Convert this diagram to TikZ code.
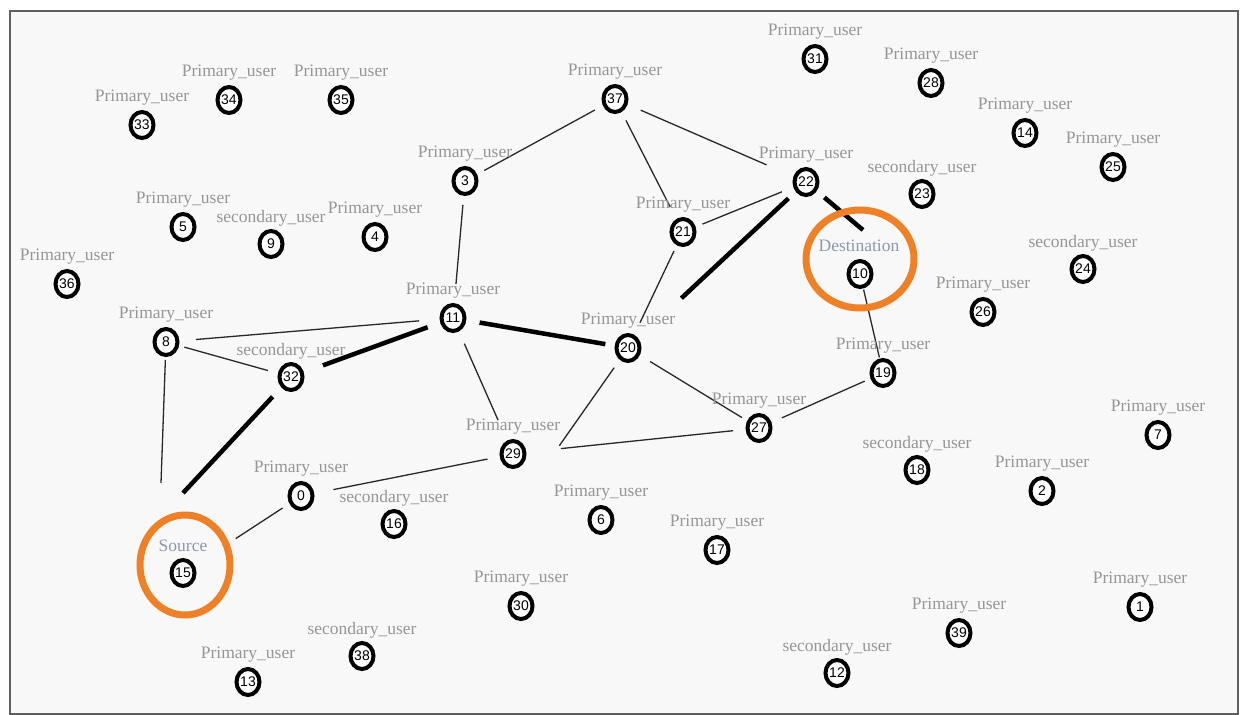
\documentclass[tikz,border=0pt]{standalone}
\usepackage{fontspec}
\setmainfont{Liberation Serif}
\newfontfamily\numfont{Liberation Sans}
\usetikzlibrary{shapes.geometric}
\definecolor{labgray}{RGB}{150,150,150}
\definecolor{srcblue}{RGB}{140,152,175}
\definecolor{ringc}{RGB}{238,128,40}
\definecolor{bgpanel}{RGB}{248,248,248}
\definecolor{framec}{RGB}{95,95,95}
\definecolor{edgec}{RGB}{40,40,40}
\pgfdeclarelayer{framelayer}
\pgfdeclarelayer{edgelayer}
\pgfsetlayers{framelayer,edgelayer,main}
\begin{document}
\begin{tikzpicture}[x=1pt,y=-1pt,
 usernode/.style={ellipse, draw=black, line width=4pt, fill=white, minimum width=23pt, minimum height=26pt, inner sep=0pt, font=\numfont\fontsize{14}{14}\selectfont},
 userlab/.style={text=labgray, font=\fontsize{17.5}{19}\selectfont, inner sep=0pt},
 endlab/.style={text=srcblue, font=\fontsize{17.5}{19}\selectfont, inner sep=0pt},
 thinedge/.style={draw=edgec, line width=1.3pt},
 thickedge/.style={draw=black, line width=4.5pt},
 ringstyle/.style={ellipse, draw=ringc, line width=7pt, inner sep=0pt}
]
\useasboundingbox (0,0) rectangle (1240,715);
\begin{pgfonlayer}{framelayer}
\fill[white] (0,0) rectangle (1240,715);
\draw[framec, line width=1.5pt, fill=bgpanel] (10,11) rectangle (1238,714);
\end{pgfonlayer}

% rings around source and destination
\node[ringstyle, minimum width=90pt, minimum height=100pt] (srcring) at (185,565) {};
\node[ringstyle, minimum width=108pt, minimum height=98pt] (dstring) at (860,259) {};

% primary users
\foreach \n/\x/\y in {33/142/125, 34/229/100, 35/341/100, 5/183/227, 4/375/237, 36/67/284, 37/615/99, 3/465/181, 22/806/182, 21/683/232, 11/453/318, 31/815/59, 28/931/83, 14/1025/133, 25/1113/167, 26/983/312, 8/166/342, 0/301/496, 13/248/682, 20/628/348, 29/513/454, 27/759/428, 6/601/520, 17/717/550, 30/521/606, 19/883/373, 7/1158/435, 2/1042/491, 1/1140/607, 39/959/633}{
  \node[usernode] (n\n) at (\x,\y) {\n};
  \node[userlab] (l\n) at (\x,\y-27) {Primary\_user};
}
% secondary users
\foreach \n/\x/\y in {9/271/244, 23/922/194, 24/1083/269, 32/291/377, 16/394/524, 38/362/656, 18/917/470, 12/837/673}{
  \node[usernode] (n\n) at (\x,\y) {\n};
  \node[userlab] (l\n) at (\x,\y-26) {secondary\_user};
}
% source and destination
\node[usernode] (n15) at (183,573) {15};
\node[endlab] (l15) at (183,546) {Source};
\node[usernode] (n10) at (860,274) {10};
\node[endlab] (l10) at (859,246) {Destination};

\coordinate (s1) at (183,493);
\coordinate (s2) at (161,483);
\coordinate (d1) at (863,230);
\coordinate (j) at (557,449);

\begin{pgfonlayer}{edgelayer}
\draw[thinedge, shorten <=22pt, shorten >=23pt] (n3.center) -- (n37.center);
\draw[thinedge, shorten <=24pt, shorten >=28pt] (n37.center) -- (n21.center);
\draw[thinedge, shorten <=28pt, shorten >=43pt] (n37.center) -- (n22.center);
\draw[thinedge, shorten <=26pt, shorten >=21pt] (n22.center) -- (n21.center);
\draw[thinedge, shorten <=24pt, shorten >=34pt] (n3.center) -- (n11.center);
\draw[thinedge, shorten <=21pt, shorten >=28pt] (n21.center) -- (n20.center);
\draw[thickedge, shorten <=73pt, shorten >=24pt] (n20.center) -- (n22.center);
\draw[thickedge, shorten <=24pt] (n22.center) -- (d1);
\draw[thinedge, shorten <=16pt, shorten >=16pt] (n10.center) -- (n19.center);
\draw[thinedge, shorten <=20pt, shorten >=25pt] (n19.center) -- (n27.center);
\draw[thinedge, shorten <=26pt, shorten >=20pt] (n20.center) -- (n27.center);
\draw[thinedge, shorten <=24pt, shorten >=4pt] (n20.center) -- (j);
\draw[thinedge, shorten <=4pt, shorten >=26pt] (j) -- (n27.center);
\draw[thinedge, shorten <=34pt, shorten >=30pt] (n11.center) -- (n8.center);
\draw[thinedge, shorten <=19pt, shorten >=24pt] (n8.center) -- (n32.center);
\draw[thickedge, shorten <=34pt, shorten >=27pt] (n32.center) -- (n11.center);
\draw[thinedge, shorten <=18pt] (n8.center) -- (s2);
\draw[thickedge, shorten <=27pt] (n32.center) -- (s1);
\draw[thinedge, shorten <=22pt, shorten >=63pt] (n0.center) -- (n15.center);
\draw[thinedge, shorten <=33pt, shorten >=26pt] (n0.center) -- (n29.center);
\draw[thinedge, shorten <=28pt, shorten >=37pt] (n11.center) -- (n29.center);
\draw[thickedge, shorten <=27pt, shorten >=23pt] (n11.center) -- (n20.center);
\end{pgfonlayer}
\end{tikzpicture}
\end{document}
